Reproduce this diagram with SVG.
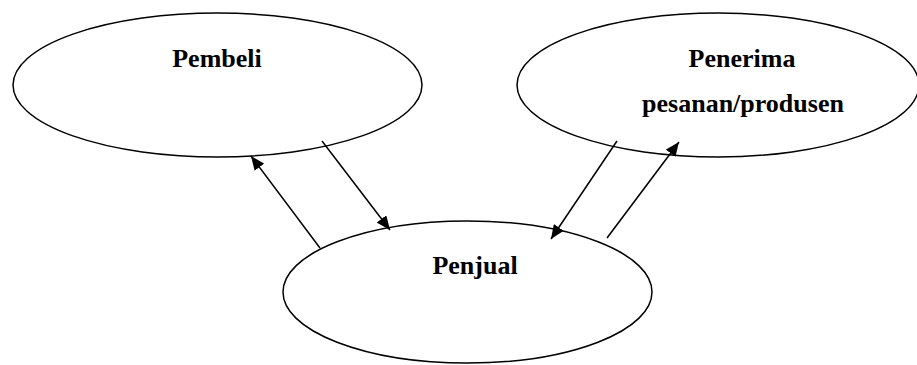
<svg xmlns="http://www.w3.org/2000/svg" width="917" height="365" viewBox="0 0 917 365">
<style>
.node ellipse{fill:#fff;stroke:#000;stroke-width:1.5}
.node text{font-family:"Liberation Serif","Times New Roman",serif;font-weight:bold;font-size:26px;fill:#000;text-anchor:middle}
.conn line{stroke:#000;stroke-width:1.5}
</style>
<defs>
<marker id="ah" viewBox="0 0 14 12" refX="14" refY="6" markerWidth="14" markerHeight="12" markerUnits="userSpaceOnUse" orient="auto">
<path d="M0,0 L14,6 L0,12 Z" fill="#000"/>
</marker>
</defs>
<rect width="917" height="365" fill="#fff"/>
<g id="pembeli" class="node">
<ellipse cx="217.5" cy="85" rx="204.5" ry="72"/>
<text x="217" y="67">Pembeli</text>
</g>
<g id="penerima" class="node">
<ellipse cx="718" cy="85" rx="201" ry="72"/>
<text x="742" y="67">Penerima</text>
<text x="743" y="112">pesanan/produsen</text>
</g>
<g id="penjual" class="node">
<ellipse cx="467.5" cy="292" rx="184.5" ry="71"/>
<text x="475" y="274">Penjual</text>
</g>
<g id="connectors" class="conn">
<line x1="320" y1="248" x2="251" y2="156" marker-end="url(#ah)"/>
<line x1="322" y1="141" x2="390" y2="230" marker-end="url(#ah)"/>
<line x1="617" y1="141" x2="551" y2="239" marker-end="url(#ah)"/>
<line x1="607" y1="238" x2="679" y2="142" marker-end="url(#ah)"/>
</g>
</svg>
